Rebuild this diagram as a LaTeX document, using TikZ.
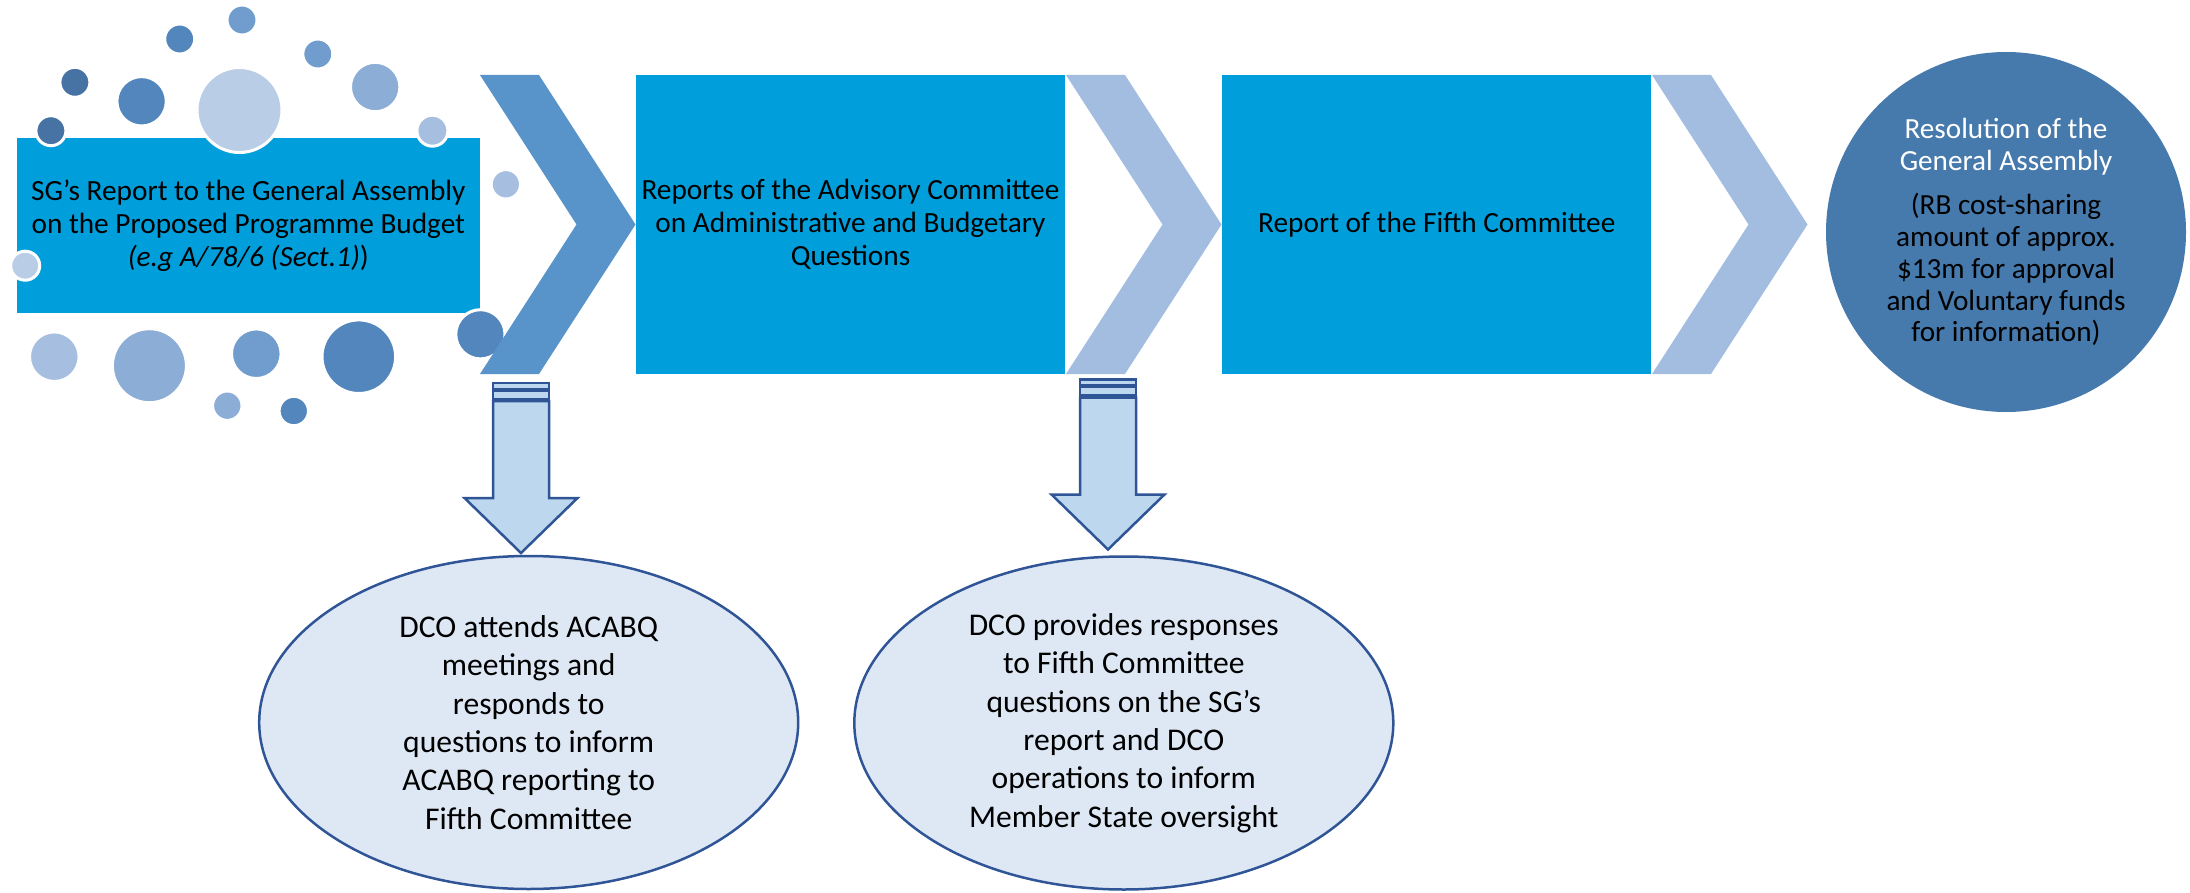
\documentclass[tikz,border=0pt]{standalone}
\usepackage{fontspec}
\setmainfont{Carlito}
\usetikzlibrary{shapes.geometric}

\definecolor{stageblue}{RGB}{0,159,219}
\definecolor{chevdark}{RGB}{88,148,202}
\definecolor{chevlight}{RGB}{162,189,224}
\definecolor{resblue}{RGB}{70,121,172}
\definecolor{arrowfill}{RGB}{189,215,238}
\definecolor{noteline}{RGB}{47,85,151}
\definecolor{notefill}{RGB}{222,232,245}
\definecolor{bubA}{RGB}{70,115,163}
\definecolor{bubB}{RGB}{82,134,188}
\definecolor{bubC}{RGB}{112,157,205}
\definecolor{bubD}{RGB}{140,173,214}
\definecolor{bubE}{RGB}{166,191,225}
\definecolor{bubF}{RGB}{185,205,230}

\begin{document}
\begin{tikzpicture}[x=1pt,y=-1pt,
    stage/.style={rectangle,fill=stageblue,inner sep=0pt,align=center,
      font=\fontsize{29.3}{33}\selectfont},
    note/.style={ellipse,draw=noteline,line width=2.5pt,fill=notefill,inner sep=0pt,
      minimum width=539pt,minimum height=333pt,align=center,
      font=\fontsize{31.6}{38.3}\selectfont},
    blockarrow/.style={draw=noteline,line width=2.5pt,fill=arrowfill}]
  \useasboundingbox (0,0) rectangle (2190,893);

  % the three report stages
  \node[stage,minimum width=463pt,minimum height=175.5pt] (sg) at (248.3,225.3)
    {SG’s Report to the General Assembly\\on the Proposed Programme Budget\\\textit{(e.g A/78/6 (Sect.1)})};
  \node[stage,minimum width=429pt,minimum height=299pt] (acabq) at (850.5,224.5)
    {Reports of the Advisory Committee\\on Administrative and Budgetary\\Questions};
  \node[stage,minimum width=429pt,minimum height=299pt] (fifth) at (1436.8,224.5)
    {Report of the Fifth Committee};

  % bubbles round the first report
  \foreach \bx/\by/\br/\bc in {242/20/15/bubC, 179.7/39/15/bubB, 317.8/54/15/bubC,
      74.9/82.3/15/bubA, 141.6/101.3/24.7/bubB, 239.5/110/42.5/bubF,
      375.2/87/24.7/bubD, 50.9/130.7/15/bubA, 432.4/130.7/15.5/bubE,
      505.9/184.3/14.7/bubE, 25.2/265.7/14.5/bubF, 480.4/334.3/24.6/bubB,
      54.3/356.7/24.8/bubE, 149.4/365.7/37/bubD, 256.3/353.7/24.8/bubC,
      358.8/356.7/36.8/bubB, 227.3/405.7/14.7/bubD, 293.8/411/14.7/bubB}
    \filldraw[fill=\bc,draw=white,line width=3pt] (\bx,\by) circle (\br);

  % chevrons between the stages
  \foreach \cx/\cc in {480/chevdark,1066/chevlight,1652/chevlight}
    \fill[\cc] (\cx,75) -- ++(59,0) -- ++(96.5,149.5) -- ++(-96.5,149.5)
      -- ++(-59,0) -- ++(96.5,-149.5) -- cycle;

  \node[circle,fill=resblue,minimum size=360pt,inner sep=0pt,align=center,
    font=\fontsize{29.2}{31.7}\selectfont] (res) at (2006,232)
    {\textcolor{white}{Resolution of the}\\\textcolor{white}{General Assembly}\\[13pt]
     (RB cost-sharing\\amount of approx.\\\$13m for approval\\and Voluntary funds\\for information)};

  % DCO involvement
  \node[note] (dco1) at (528.7,722.5)
    {DCO attends ACABQ\\meetings and\\responds to\\questions to inform\\ACABQ reporting to\\Fifth Committee};
  \node[note] (dco2) at (1123.8,723)
    {DCO provides responses\\to Fifth Committee\\questions on the SG’s\\report and DCO\\operations to inform\\Member State oversight};

  \foreach \ax/\ay in {521/383,1108/379.5}{
    \draw[blockarrow] (\ax-28,\ay) rectangle (\ax+28,\ay+6);
    \draw[blockarrow] (\ax-28,\ay+7.5) rectangle (\ax+28,\ay+16);
    \draw[blockarrow] (\ax-28,\ay+18) -- (\ax+28,\ay+18) -- (\ax+28,\ay+115)
      -- (\ax+56.5,\ay+115) -- (\ax,\ay+170) -- (\ax-56.5,\ay+115)
      -- (\ax-28,\ay+115) -- cycle;
  }
\end{tikzpicture}
\end{document}
